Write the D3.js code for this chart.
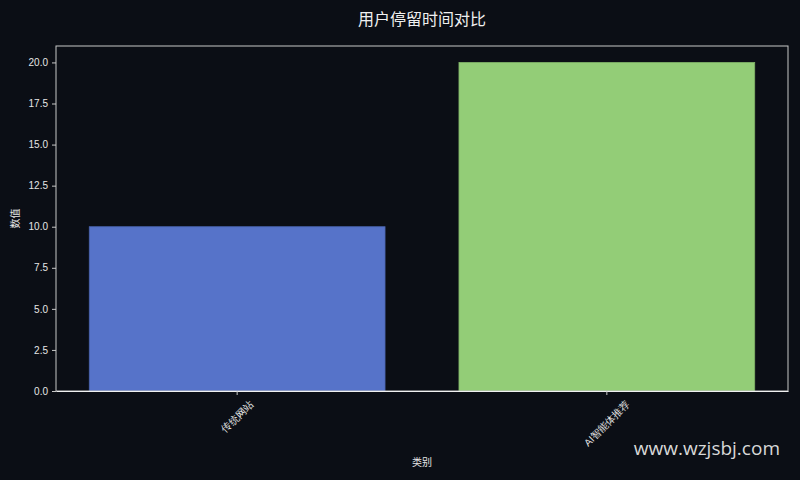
<!DOCTYPE html>
<html>
<head>
<meta charset="utf-8">
<script src="https://cdn.jsdelivr.net/npm/d3@7"></script>
<style>
  html, body { margin: 0; padding: 0; background: #0b0e15; }
  svg { display: block; font-family: "Noto Sans CJK SC", "DejaVu Sans", sans-serif; }
</style>
</head>
<body>
<svg id="chart"></svg>
<script>
const categories = ["传统网站", "AI智能体推荐"];
const values = [10, 20];
const yTicks = [0, 2.5, 5, 7.5, 10, 12.5, 15, 17.5, 20];
const title = "用户停留时间对比";

const w = 800, h = 480,
  m = { top: 46, right: 12, bottom: 89, left: 56 },
  colors = ["#5673c9", "#93cd77"],
  bg = "#0b0e15",
  textColor = "#e6e6e6";

const svg = d3.select("#chart")
  .attr("width", w)
  .attr("height", h)
  .attr("viewBox", [0, 0, w, h]);

svg.append("rect").attr("width", w).attr("height", h).attr("fill", bg);

const x = d3.scaleBand()
  .domain(categories)
  .range([m.left, w - m.right])
  .paddingInner(0.2)
  .paddingOuter(0.09);

const y = d3.scaleLinear()
  .domain([0, 21])
  .range([h - m.bottom, m.top]);

// bars
svg.append("g")
  .selectAll("rect")
  .data(values)
  .join("rect")
  .attr("x", (d, i) => x(categories[i]))
  .attr("y", d => y(d))
  .attr("width", x.bandwidth())
  .attr("height", d => y(0) - y(d))
  .attr("fill", (d, i) => colors[i])
  .attr("stroke", (d, i) => d3.color(colors[i]).darker(0.4))
  .attr("stroke-width", 0.8);

// frame
svg.append("rect")
  .attr("x", m.left)
  .attr("y", m.top)
  .attr("width", w - m.left - m.right)
  .attr("height", h - m.top - m.bottom)
  .attr("fill", "none")
  .attr("stroke", "#c8c8c8")
  .attr("stroke-width", 1);

// y axis
const yAxis = d3.axisLeft(y)
  .tickValues(yTicks)
  .tickFormat(d3.format(".1f"))
  .tickSize(4)
  .tickPadding(4);

const gy = svg.append("g")
  .attr("transform", `translate(${m.left},0)`)
  .call(yAxis);
gy.select(".domain").remove();
gy.selectAll("line").attr("stroke", "#c8c8c8");
gy.selectAll("text").attr("fill", textColor).style("font-size", "10px");

// x axis
const xAxis = d3.axisBottom(x).tickSize(4).tickSizeOuter(0);
const gx = svg.append("g")
  .attr("transform", `translate(0,${h - m.bottom})`)
  .call(xAxis);
gx.select(".domain").attr("stroke", "#f0f0f0").attr("stroke-width", 1.2);
gx.selectAll("line").attr("stroke", "#c8c8c8");
gx.selectAll("text")
  .attr("fill", textColor)
  .style("font-size", "10px")
  .attr("text-anchor", "middle")
  .attr("dy", "0.35em")
  .attr("y", 0)
  .attr("transform", function () {
    const len = this.getComputedTextLength();
    const half = (len + 10) * Math.SQRT1_2 / 2;
    return `translate(0,${8 + half}) rotate(-45)`;
  });

// labels
svg.append("text")
  .attr("x", (m.left + w - m.right) / 2)
  .attr("y", 25)
  .attr("text-anchor", "middle")
  .attr("fill", "#f0f0f0")
  .style("font-size", "16px")
  .text(title);

svg.append("text")
  .attr("transform", `translate(19,${(m.top + h - m.bottom) / 2}) rotate(-90)`)
  .attr("text-anchor", "middle")
  .attr("fill", textColor)
  .style("font-size", "10px")
  .text("数值");

svg.append("text")
  .attr("x", (m.left + w - m.right) / 2)
  .attr("y", 466)
  .attr("text-anchor", "middle")
  .attr("fill", textColor)
  .style("font-size", "10px")
  .text("类别");

svg.append("text")
  .attr("x", 780)
  .attr("y", 455)
  .attr("text-anchor", "end")
  .attr("fill", "#d8d8d8")
  .style("font-size", "19px")
  .style("font-family", "'Open Sans', sans-serif")
  .text("www.wzjsbj.com");
</script>
</body>
</html>
